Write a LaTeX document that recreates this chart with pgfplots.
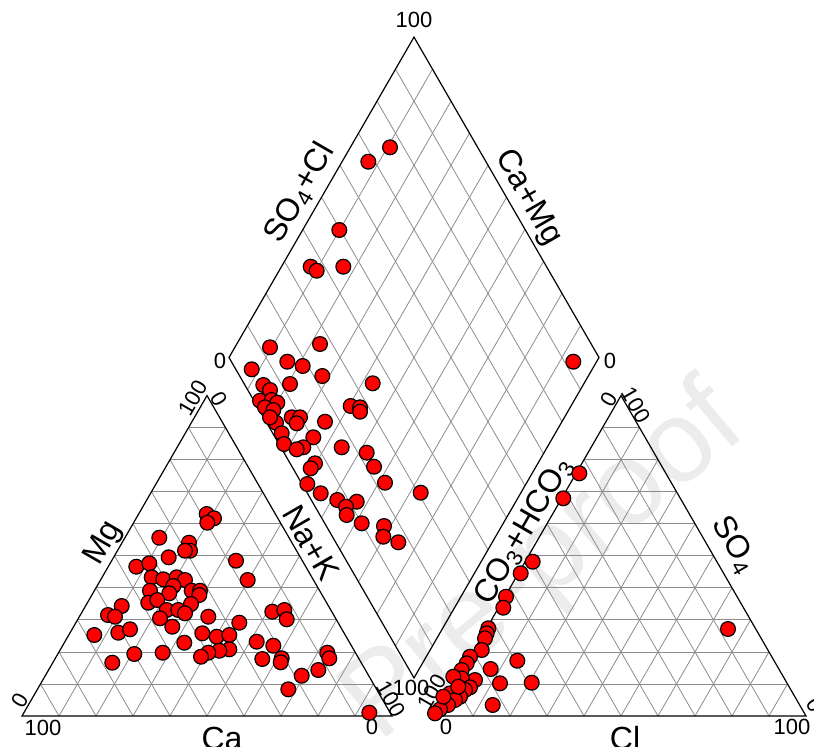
\documentclass[border=0pt]{standalone}
\usepackage{fontspec}
\setmainfont{Liberation Sans}
\usepackage{pgfplots}
\pgfplotsset{compat=1.18}
\usetikzlibrary{calc}
\definecolor{gridc}{rgb}{0.55,0.55,0.55}
\definecolor{wm}{rgb}{0.925,0.925,0.925}
\pgfplotstableread{
x y
206.7 514
214 518.3
207.3 522.7
159.3 537.7
189 542.7
190 550.7
185 550.7
168.7 557.3
236 560.7
136.3 566.7
149.3 563.3
247.7 580
151.7 577.3
163.3 579.3
176.7 577.3
185 580
173.3 586
150 590.7
169.3 593.3
191.7 590.7
200 590.7
199.3 595
148.3 602.7
157.3 600
191 604
121.7 606
108 615
115 616.7
166.7 610
178.3 610
185 613.3
160 618.3
208.3 616.7
272.3 611.7
284.3 610
286.7 619.3
239.3 622.7
172.3 626.7
94.3 635
118.3 632.7
130 629.3
202.3 633.3
216.7 636.7
229.3 635
184.3 642.7
256.7 641.7
273.3 645.7
229.3 649.3
219.3 650.7
208.3 652.7
201 656.7
134.3 654
162.7 652.7
112.3 662.7
262.3 659
281.7 658.3
280.7 662.3
327.3 652.7
329.3 658.3
318.3 670
301.7 675.7
288.3 689.3
369.3 712.7
}\cations
\pgfplotstableread{
x y
390 147.3
368.3 161.7
339.3 230
310.7 266.7
316.7 270.7
343.3 266.7
573.3 361.7
270 347.3
320 344
287.3 361.7
302.7 366
251.7 369.3
322.3 376
290 384
263.3 385
270 390
372.7 383.3
260 400.7
271.7 400
277.3 402.7
265 407.3
273.3 410
350.7 406
360 407.3
360 411.7
291.7 417.3
300 417.3
296.7 423.3
276 422.7
270 417.3
325 421.7
281.7 433.3
313.3 437.3
284 444
303.3 447.3
296.7 449.3
341.7 447.3
366.7 452.7
315 463.3
310.7 468.3
374 466.7
385 482.7
307.3 484
320.7 493.3
420.7 492.7
337.3 500
356.7 501.7
346 506.7
346.7 515
361.7 523.3
384 526
383.3 536.7
398.3 542.3
}\diamondpts
\pgfplotstableread{
x y
579.3 473.3
563.3 498.3
532.7 561.7
520.7 573.3
506 596.7
503.3 607.7
488.3 628.3
486.7 633.3
485 638.3
481.7 650
470 656.7
466.7 663.3
517.3 660.7
490.7 669
461.7 670
475 680
461.7 678.3
453.3 676.7
470 687.3
500 683.3
531.7 682.7
465 690
450 693.3
460 696.7
455 700
445 703.3
448 705
440 709.3
435 713.3
492.7 705
458.3 686.7
443.3 696.7
728 629
}\anions
\begin{document}
\begin{tikzpicture}
\begin{axis}[x=0.5pt,y=0.5pt,xmin=0,xmax=814,ymin=0,ymax=746,
  y dir=reverse, hide axis, clip=false]
\coordinate (bbA) at (axis cs:0,0);
\coordinate (bbB) at (axis cs:814,746);
% watermark
\node[rotate=40, text=wm, font=\fontsize{58}{60}\selectfont] at (axis cs:545,565) {Pre-proof};
% vertices
\coordinate (A) at (axis cs:22,716);
\coordinate (B) at (axis cs:392,716);
\coordinate (C) at (axis cs:207,395.6);
\coordinate (D) at (axis cs:436,716);
\coordinate (E) at (axis cs:806,716);
\coordinate (F) at (axis cs:621,395.6);
\coordinate (G) at (axis cs:414,677.9);
\coordinate (H) at (axis cs:229,357.5);
\coordinate (I) at (axis cs:599,357.5);
\coordinate (J) at (axis cs:414,37.1);
\pgfplotsinvokeforeach{1,...,9}{
 \draw[gridc, line width=0.4pt] ($(A)!#1/10!(C)$) -- ($(B)!#1/10!(C)$);
 \draw[gridc, line width=0.4pt] ($(A)!#1/10!(B)$) -- ($(C)!#1/10!(B)$);
 \draw[gridc, line width=0.4pt] ($(B)!#1/10!(A)$) -- ($(C)!#1/10!(A)$);
 \draw[gridc, line width=0.4pt] ($(D)!#1/10!(F)$) -- ($(E)!#1/10!(F)$);
 \draw[gridc, line width=0.4pt] ($(D)!#1/10!(E)$) -- ($(F)!#1/10!(E)$);
 \draw[gridc, line width=0.4pt] ($(E)!#1/10!(D)$) -- ($(F)!#1/10!(D)$);
 \draw[gridc, line width=0.4pt] ($(G)!#1/10!(I)$) -- ($(H)!#1/10!(J)$);
 \draw[gridc, line width=0.4pt] ($(G)!#1/10!(H)$) -- ($(I)!#1/10!(J)$);
}
\draw[black, line width=0.6pt] (A) -- (B) -- (C) -- cycle;
\draw[black, line width=0.6pt] (D) -- (E) -- (F) -- cycle;
\draw[black, line width=0.6pt] (G) -- (H) -- (J) -- (I) -- cycle;
% tick labels
\begin{scope}[font=\fontsize{11}{13}\selectfont]
\node at (axis cs:414,20) {100};
\node at (axis cs:220,361) {0};
\node at (axis cs:610,361) {0};
\node at (axis cs:43,728) {100};
\node[rotate=60] at (axis cs:20,700) {0};
\node[rotate=60] at (axis cs:193,398) {100};
\node[rotate=-60] at (axis cs:219,399) {0};
\node[rotate=-60] at (axis cs:391,699) {100};
\node at (axis cs:372,727) {0};
\node at (axis cs:411,688) {100};
\node[rotate=60] at (axis cs:432,692) {100};
\node at (axis cs:446,727) {0};
\node at (axis cs:792,727) {100};
\node[rotate=60] at (axis cs:609,399) {0};
\node[rotate=-60] at (axis cs:636,405) {100};
\node[rotate=-60] at (axis cs:815,705) {0};
\end{scope}
% axis labels
\begin{scope}[font=\fontsize{16}{19}\selectfont]
\node[rotate=60] at (axis cs:300,193) {SO\textsubscript{4}+Cl};
\node[rotate=-60] at (axis cs:528,198) {Ca+Mg};
\node[rotate=60] at (axis cs:104,543) {Mg};
\node[rotate=-60] at (axis cs:311,543) {Na+K};
\node at (axis cs:222,738) {Ca};
\node[rotate=60] at (axis cs:524,531) {CO\textsubscript{3}+HCO\textsubscript{3}};
\node[rotate=-60] at (axis cs:734,545) {SO\textsubscript{4}};
\node at (axis cs:625,738) {Cl};
\end{scope}
\addplot[only marks, mark=*, mark size=3.7pt, mark options={fill=red, draw=black, line width=0.6pt}] table[x=x,y=y] {\cations};
\addplot[only marks, mark=*, mark size=3.7pt, mark options={fill=red, draw=black, line width=0.6pt}] table[x=x,y=y] {\diamondpts};
\addplot[only marks, mark=*, mark size=3.7pt, mark options={fill=red, draw=black, line width=0.6pt}] table[x=x,y=y] {\anions};
\end{axis}
\pgfresetboundingbox
\useasboundingbox (bbA) rectangle (bbB);
\end{tikzpicture}
\end{document}
